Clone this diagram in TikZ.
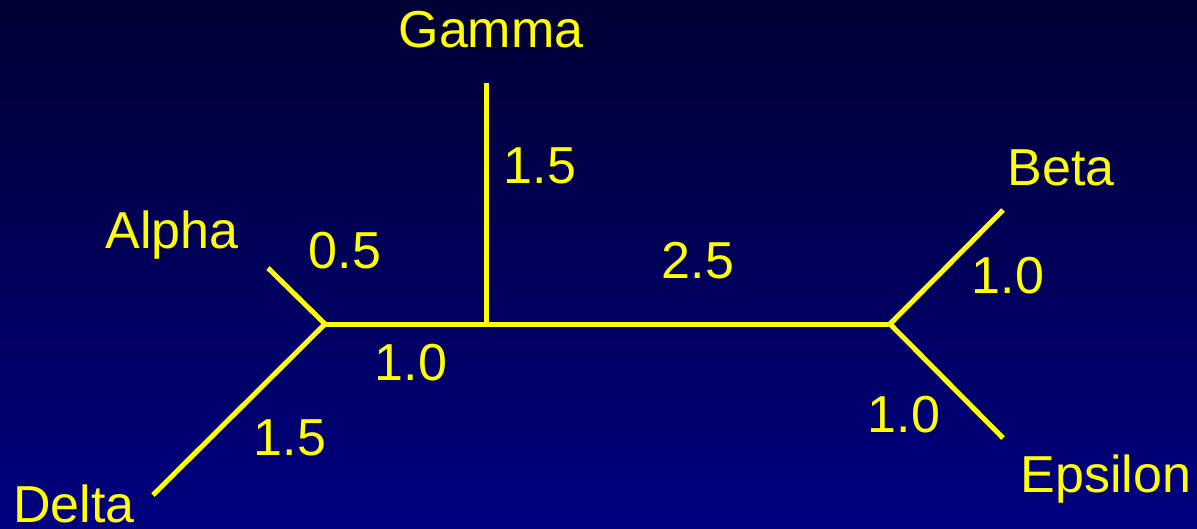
\documentclass[tikz,border=0pt]{standalone}
\usepackage{fontspec}
\setmainfont{Liberation Sans}
\usetikzlibrary{positioning}

\definecolor{navytop}{RGB}{0,0,51}
\definecolor{navybot}{RGB}{0,0,128}
\definecolor{treeyellow}{RGB}{255,255,0}

\tikzset{
  branch/.style={draw=treeyellow, line width=5pt, line join=miter},
  taxon/.style={font=\fontsize{52}{62}\selectfont, text=treeyellow, inner sep=0pt, anchor=base},
  brlen/.style={taxon}
}

\begin{document}
\begin{tikzpicture}[x=1pt,y=-1pt]
\shade [top color=navytop, bottom color=navybot] (0,0) rectangle (1197,528);
\useasboundingbox (0,0) rectangle (1197,528);
% internal nodes and tips
\coordinate (ad)  at (325,324);
\coordinate (g)   at (486,324);
\coordinate (be)  at (890,324);
\coordinate (tA)  at (268,268);
\coordinate (tD)  at (153,495);
\coordinate (tG)  at (486,83);
\coordinate (tB)  at (1003,210);
\coordinate (tE)  at (1003,438);
\draw [branch] (tA) -- (ad) -- (tD);
\draw [branch] (ad) -- (be);
\draw [branch] (g) -- (tG);
\draw [branch] (tB) -- (be) -- (tE);
% taxa
\node [taxon] (alpha)   at (172,248) {Alpha};
\node [taxon] (beta)    at (1061,185) {Beta};
\node [taxon] (gamma)   at (491,47)  {Gamma};
\node [taxon] (delta)   at (74,522)  {Delta};
\node [taxon] (epsilon) at (1106,492) {Epsilon};
% branch lengths
\node [brlen] (lA) at (345,268) {0.5};
\node [brlen] (lD) at (290,455) {1.5};
\node [brlen] (lG) at (540,183) {1.5};
\node [brlen] (lM) at (411,380) {1.0};
\node [brlen] (lR) at (698,278) {2.5};
\node [brlen] (lB) at (1008,293) {1.0};
\node [brlen] (lE) at (904,432) {1.0};
\end{tikzpicture}
\end{document}
